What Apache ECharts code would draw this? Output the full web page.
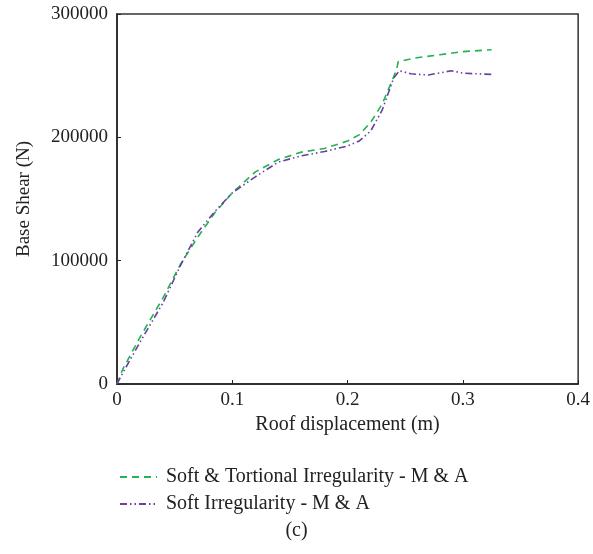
<!DOCTYPE html>
<html><head><meta charset="utf-8">
<script src="https://cdn.jsdelivr.net/npm/echarts@6/dist/echarts.min.js"></script>
<style>html,body{margin:0;padding:0;background:#fff}#c{width:593px;height:554px}</style>
</head><body><div id="c"></div>
<script>
const greenName = 'Soft & Tortional Irregularity - M & A';
const purpleName = 'Soft Irregularity - M & A';
const greenX = [0, 0.005, 0.02, 0.04, 0.055, 0.07, 0.085, 0.1, 0.12, 0.14, 0.16, 0.18, 0.2, 0.21, 0.22, 0.23, 0.24, 0.2425, 0.244, 0.26, 0.28, 0.3, 0.325];
const greenY = [0, 12000, 38000, 70000, 97000, 119000, 139000, 155000, 172000, 182000, 188000, 191000, 197000, 202000, 212000, 227000, 249000, 255000, 261500, 264500, 267000, 269500, 271000];
const purpleX = [0, 0.005, 0.02, 0.04, 0.055, 0.07, 0.085, 0.1, 0.12, 0.14, 0.16, 0.18, 0.2, 0.21, 0.22, 0.23, 0.24, 0.245, 0.255, 0.27, 0.29, 0.3, 0.325];
const purpleY = [0, 9000, 34000, 66000, 96000, 123000, 140000, 155000, 168000, 180000, 185000, 188500, 193000, 197000, 205000, 222000, 248000, 254000, 251500, 250500, 254000, 252000, 251000];
const xTicks = [0, 0.1, 0.2, 0.3, 0.4];
const yTicks = [0, 100000, 200000, 300000];

const font = "'Liberation Serif', 'DejaVu Serif', serif";
const zip = (xs, ys) => xs.map((x, i) => [x, ys[i]]);
const chart = echarts.init(document.getElementById('c'), null, {renderer: 'canvas'});
chart.setOption({
  animation: false,
  grid: {left: 117, right: 12, top: 14, bottom: 170, show: true, borderColor: '#333', borderWidth: 1.5, backgroundColor: 'transparent'},
  xAxis: {
    type: 'value', min: xTicks[0], max: xTicks[xTicks.length - 1], interval: 0.1,
    name: 'Roof displacement (m)', nameLocation: 'middle', nameGap: 25,
    nameTextStyle: {fontFamily: font, fontSize: 20, color: '#222', verticalAlign: 'top'},
    axisLine: {lineStyle: {color: '#222', width: 1.5}},
    axisTick: {inside: true, length: 4, lineStyle: {color: '#222'}},
    splitLine: {show: false},
    axisLabel: {fontFamily: font, fontSize: 19, color: '#222', margin: 7,
      formatter: v => String(Math.round(v * 10) / 10)}
  },
  yAxis: {
    type: 'value', min: yTicks[0], max: yTicks[yTicks.length - 1], interval: 100000,
    name: 'Base Shear (N)', nameLocation: 'middle', nameGap: 83, nameRotate: 90,
    nameTextStyle: {fontFamily: font, fontSize: 19, color: '#222'},
    axisLine: {show: true, lineStyle: {color: '#222', width: 1.5}},
    axisTick: {show: true, inside: true, length: 4, lineStyle: {color: '#222'}},
    splitLine: {show: false},
    axisLabel: {fontFamily: font, fontSize: 19, color: '#222', margin: 9, formatter: v => String(v)}
  },
  legend: {
    orient: 'vertical', left: 114, top: 462, itemGap: 7, itemWidth: 37, itemHeight: 20,
    itemStyle: {opacity: 0},
    textStyle: {fontFamily: font, fontSize: 20, color: '#222', padding: [0, 0, 0, 4]},
    data: [greenName, purpleName]
  },
  graphic: [{type: 'text', left: 'center', top: 521, style: {text: '(c)', font: "20px " + font, fill: '#222'}}],
  series: [
    {name: greenName, type: 'line', showSymbol: false, symbol: 'none', data: zip(greenX, greenY),
      lineStyle: {color: '#23b34f', width: 1.6, type: [7, 5]}, itemStyle: {color: '#23b34f'}},
    {name: purpleName, type: 'line', showSymbol: false, symbol: 'none', data: zip(purpleX, purpleY),
      lineStyle: {color: '#6b3fa0', width: 1.6, type: [7, 3, 1.5, 3, 1.5, 3]}, itemStyle: {color: '#6b3fa0'}}
  ]
});
</script></body></html>
